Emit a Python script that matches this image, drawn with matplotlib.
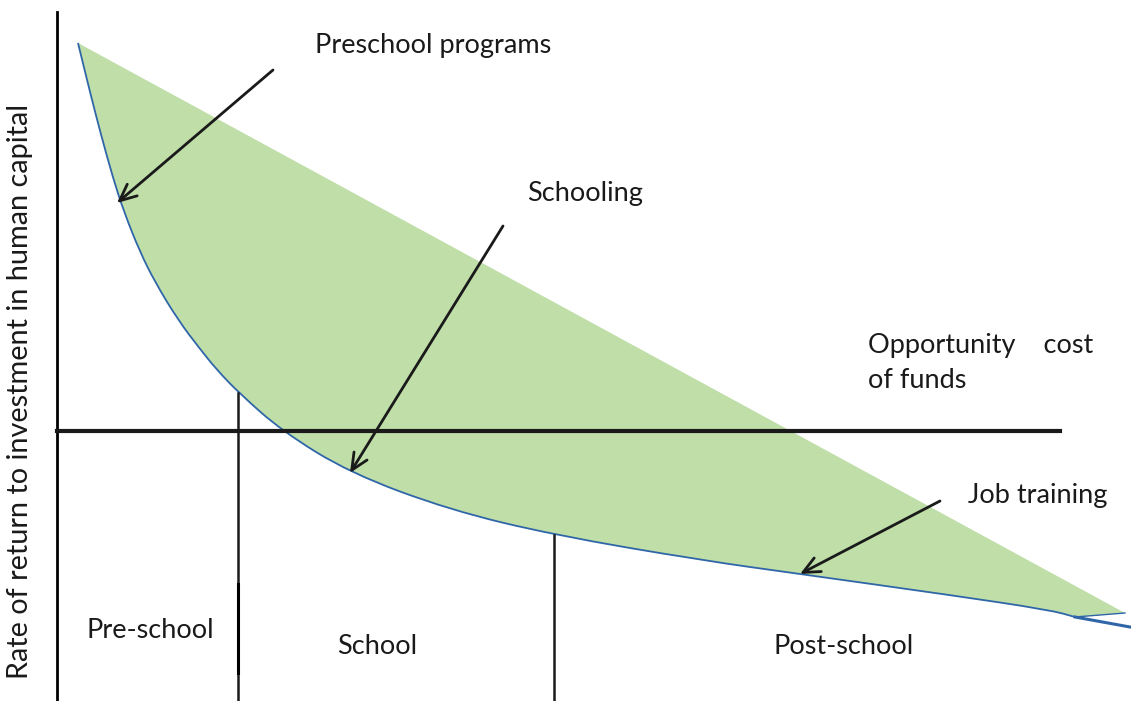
import matplotlib
matplotlib.use("Agg")
import matplotlib.pyplot as plt
from matplotlib.path import Path
from matplotlib.patches import PathPatch

plt.rcParams['font.family'] = ['Lato', 'DejaVu Sans']

# Diagram drawn in a 1131 x 701 coordinate space (y grows downward)
# Return curve (convex)
curve_x = [78, 90, 100, 113, 124, 140, 155, 178, 200, 217, 239, 282, 350, 450, 554, 700, 800, 950, 1050, 1075]
curve_y = [43, 92, 131, 178, 212, 252, 282, 320, 349, 370, 393, 431, 473, 510, 535, 560, 574, 595, 610, 617]
tail_x = [1075, 1130]
tail_y = [617, 627]
# Straight upper boundary of the shaded region
top_x = [78, 1125]
top_y = [43, 613]

opportunity_cost_y = 431
axis_x = 57
divider_x = [238, 554]
divider_top = [393, 535]

labels = ["Pre-school", "School", "Post-school"]
label_x = [150, 377, 844]
label_y = [631, 646, 646]

arrow_texts = ["Preschool programs", "Schooling", "Job training"]
arrow_text_xy = [(315, 46), (527, 193), (968, 496)]
arrow_start = [(273, 70), (503, 226), (940, 501)]
arrow_end = [(117, 203), (350, 473), (800, 574)]


def smooth_path_verts(xs, ys):
    """Quadratic-Bezier path through midpoints, drawn by matplotlib's Path."""
    pts = list(zip(xs, ys))
    verts = [pts[0]]
    codes = [Path.MOVETO]
    mid = lambda a, b: ((a[0] + b[0]) / 2, (a[1] + b[1]) / 2)
    verts.append(mid(pts[0], pts[1]))
    codes.append(Path.LINETO)
    for i in range(1, len(pts) - 1):
        verts += [pts[i], mid(pts[i], pts[i + 1])]
        codes += [Path.CURVE3, Path.CURVE3]
    verts.append(pts[-1])
    codes.append(Path.LINETO)
    return verts, codes


fig = plt.figure(figsize=(11.31, 7.01), dpi=100)
ax = fig.add_axes([0, 0, 1, 1])
ax.set_xlim(0, 1131)
ax.set_ylim(701, 0)
ax.axis('off')

green = '#BFDEA8'
blue = '#2F66A8'

cv, cc = smooth_path_verts(curve_x, curve_y)
# shaded region: along curve, across to top end, back along straight line
fill_verts = cv + [(top_x[1], top_y[1]), (top_x[0], top_y[0]), (0, 0)]
fill_codes = cc + [Path.LINETO, Path.LINETO, Path.CLOSEPOLY]
ax.add_patch(PathPatch(Path(fill_verts, fill_codes), facecolor=green, lw=0, zorder=1))
ax.add_patch(PathPatch(Path(cv, cc), facecolor='none', edgecolor=blue, lw=1.3, zorder=3))
ax.plot(tail_x, tail_y, color=blue, lw=2.2, zorder=3)
ax.plot([curve_x[-1], top_x[-1]], [curve_y[-1], top_y[-1]], color=blue, lw=1.0, zorder=3)

# axes lines
ax.plot([axis_x, axis_x], [12, 701], color='black', lw=2.0, zorder=4)
ax.plot([axis_x, 1060], [opportunity_cost_y] * 2, color='#1a1a1a', lw=3.0, zorder=4)
for dx, dt in zip(divider_x, divider_top):
    ax.plot([dx, dx], [dt, 701], color='#1a1a1a', lw=1.8, zorder=4)
ax.plot([divider_x[0], divider_x[0]], [584, 673], color='black', lw=2.2, zorder=4)

fs = 19.5
for t, (tx, ty) in zip(arrow_texts, arrow_text_xy):
    ax.text(tx, ty, t, fontsize=fs, color='#1a1a1a', ha='left', va='center', zorder=5)
for s, e in zip(arrow_start, arrow_end):
    ax.annotate('', xy=e, xytext=s,
                arrowprops=dict(arrowstyle='->,head_length=1.2,head_width=0.55',
                                color='#1a1a1a', lw=2.0, shrinkA=0, shrinkB=0), zorder=5)

ax.text(868, 345, "Opportunity    cost", fontsize=fs, color='#1a1a1a', ha='left', va='center')
ax.text(868, 381, "of funds", fontsize=fs, color='#1a1a1a', ha='left', va='center')

for t, lx, ly in zip(labels, label_x, label_y):
    ax.text(lx, ly, t, fontsize=fs, color='#1a1a1a', ha='center', va='center')

ax.text(20, 391, "Rate of return to investment in human capital", fontsize=20.8,
        color='#1a1a1a', rotation=90, ha='center', va='center')

fig.savefig('out.png', dpi=100)
